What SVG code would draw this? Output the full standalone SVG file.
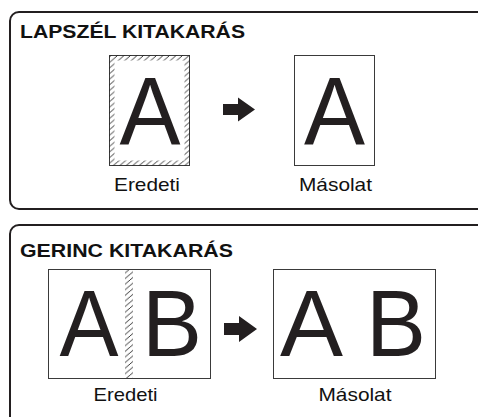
<svg xmlns="http://www.w3.org/2000/svg" width="478" height="417" viewBox="0 0 478 417">
  <defs>
    <pattern id="hatch" patternUnits="userSpaceOnUse" x="0" y="0" width="6.5" height="5.6">
      <path d="M-1.3,6.72 L7.8,-1.12" stroke="#222222" stroke-width="0.9" fill="none"/>
    </pattern>
    <clipPath id="band1">
      <path d="M109,55 H190 V166 H109 Z M114.5,60.5 V160.5 H184.5 V60.5 Z" clip-rule="evenodd"/>
    </clipPath>
  </defs>
  <style>
    .panel { fill: #ffffff; stroke: #231f20; stroke-width: 2; }
    .page { fill: #ffffff; stroke: #3a3a3a; stroke-width: 1; }
    .title { font-family: "Liberation Sans", Arial, sans-serif; font-weight: bold; font-size: 19px; fill: #111111; }
    .label { font-family: "Liberation Sans", Arial, sans-serif; font-size: 19px; fill: #111111; text-anchor: middle; }
    .big { font-family: "Liberation Sans", Arial, sans-serif; fill: #231f20; text-anchor: middle; }
    .arrow { fill: #231f20; }
  </style>
  <rect width="478" height="417" fill="#ffffff"/>

  <g id="panel-lapszel">
    <rect class="panel" x="10" y="12" width="480" height="197" rx="9" ry="9"/>
    <text class="title" x="20" y="37.5" textLength="225" lengthAdjust="spacingAndGlyphs">LAPSZÉL KITAKARÁS</text>
  </g>

  <g id="lapszel-eredeti">
    <rect class="page" x="109.5" y="55.5" width="80" height="110"/>
    <rect x="109" y="55" width="81" height="111" fill="url(#hatch)" clip-path="url(#band1)"/>
    <text class="big" x="150" y="144" font-size="96" textLength="61" lengthAdjust="spacingAndGlyphs">A</text>
    <text class="label" x="147" y="191" textLength="66" lengthAdjust="spacingAndGlyphs">Eredeti</text>
  </g>

  <g id="lapszel-masolat">
    <rect class="page" x="294.5" y="55.5" width="80" height="110"/>
    <text class="big" x="334.5" y="144" font-size="96" textLength="61" lengthAdjust="spacingAndGlyphs">A</text>
    <text class="label" x="335.5" y="191" textLength="73" lengthAdjust="spacingAndGlyphs">Másolat</text>
  </g>

  <g id="panel-gerinc">
    <rect class="panel" x="10" y="225" width="480" height="210" rx="9" ry="9"/>
    <text class="title" x="20" y="256.5" textLength="213" lengthAdjust="spacingAndGlyphs">GERINC KITAKARÁS</text>
  </g>

  <g id="gerinc-eredeti">
    <rect class="page" x="48.5" y="269.5" width="162" height="109"/>
    <rect x="125" y="270" width="8" height="108" fill="url(#hatch)"/>
    <text class="big" x="89" y="356" font-size="94" textLength="59" lengthAdjust="spacingAndGlyphs">A</text>
    <text class="big" x="172" y="356" font-size="94" textLength="60" lengthAdjust="spacingAndGlyphs">B</text>
    <text class="label" x="125.5" y="400.5" textLength="64" lengthAdjust="spacingAndGlyphs">Eredeti</text>
  </g>

  <g id="gerinc-masolat">
    <rect class="page" x="273.5" y="269.5" width="162" height="109"/>
    <text class="big" x="311.5" y="356" font-size="94" textLength="63" lengthAdjust="spacingAndGlyphs">A</text>
    <text class="big" x="396" y="356" font-size="94" textLength="60" lengthAdjust="spacingAndGlyphs">B</text>
    <text class="label" x="355" y="400.5" textLength="73" lengthAdjust="spacingAndGlyphs">Másolat</text>
  </g>

  <g id="connectors">
    <path class="arrow" d="M223,104 H238 V97.5 L255,109.5 L238,121.5 V115 H223 Z"/>
    <path class="arrow" d="M224,323 H239 V316 L257,329 L239,342 V335 H224 Z"/>
  </g>
</svg>
